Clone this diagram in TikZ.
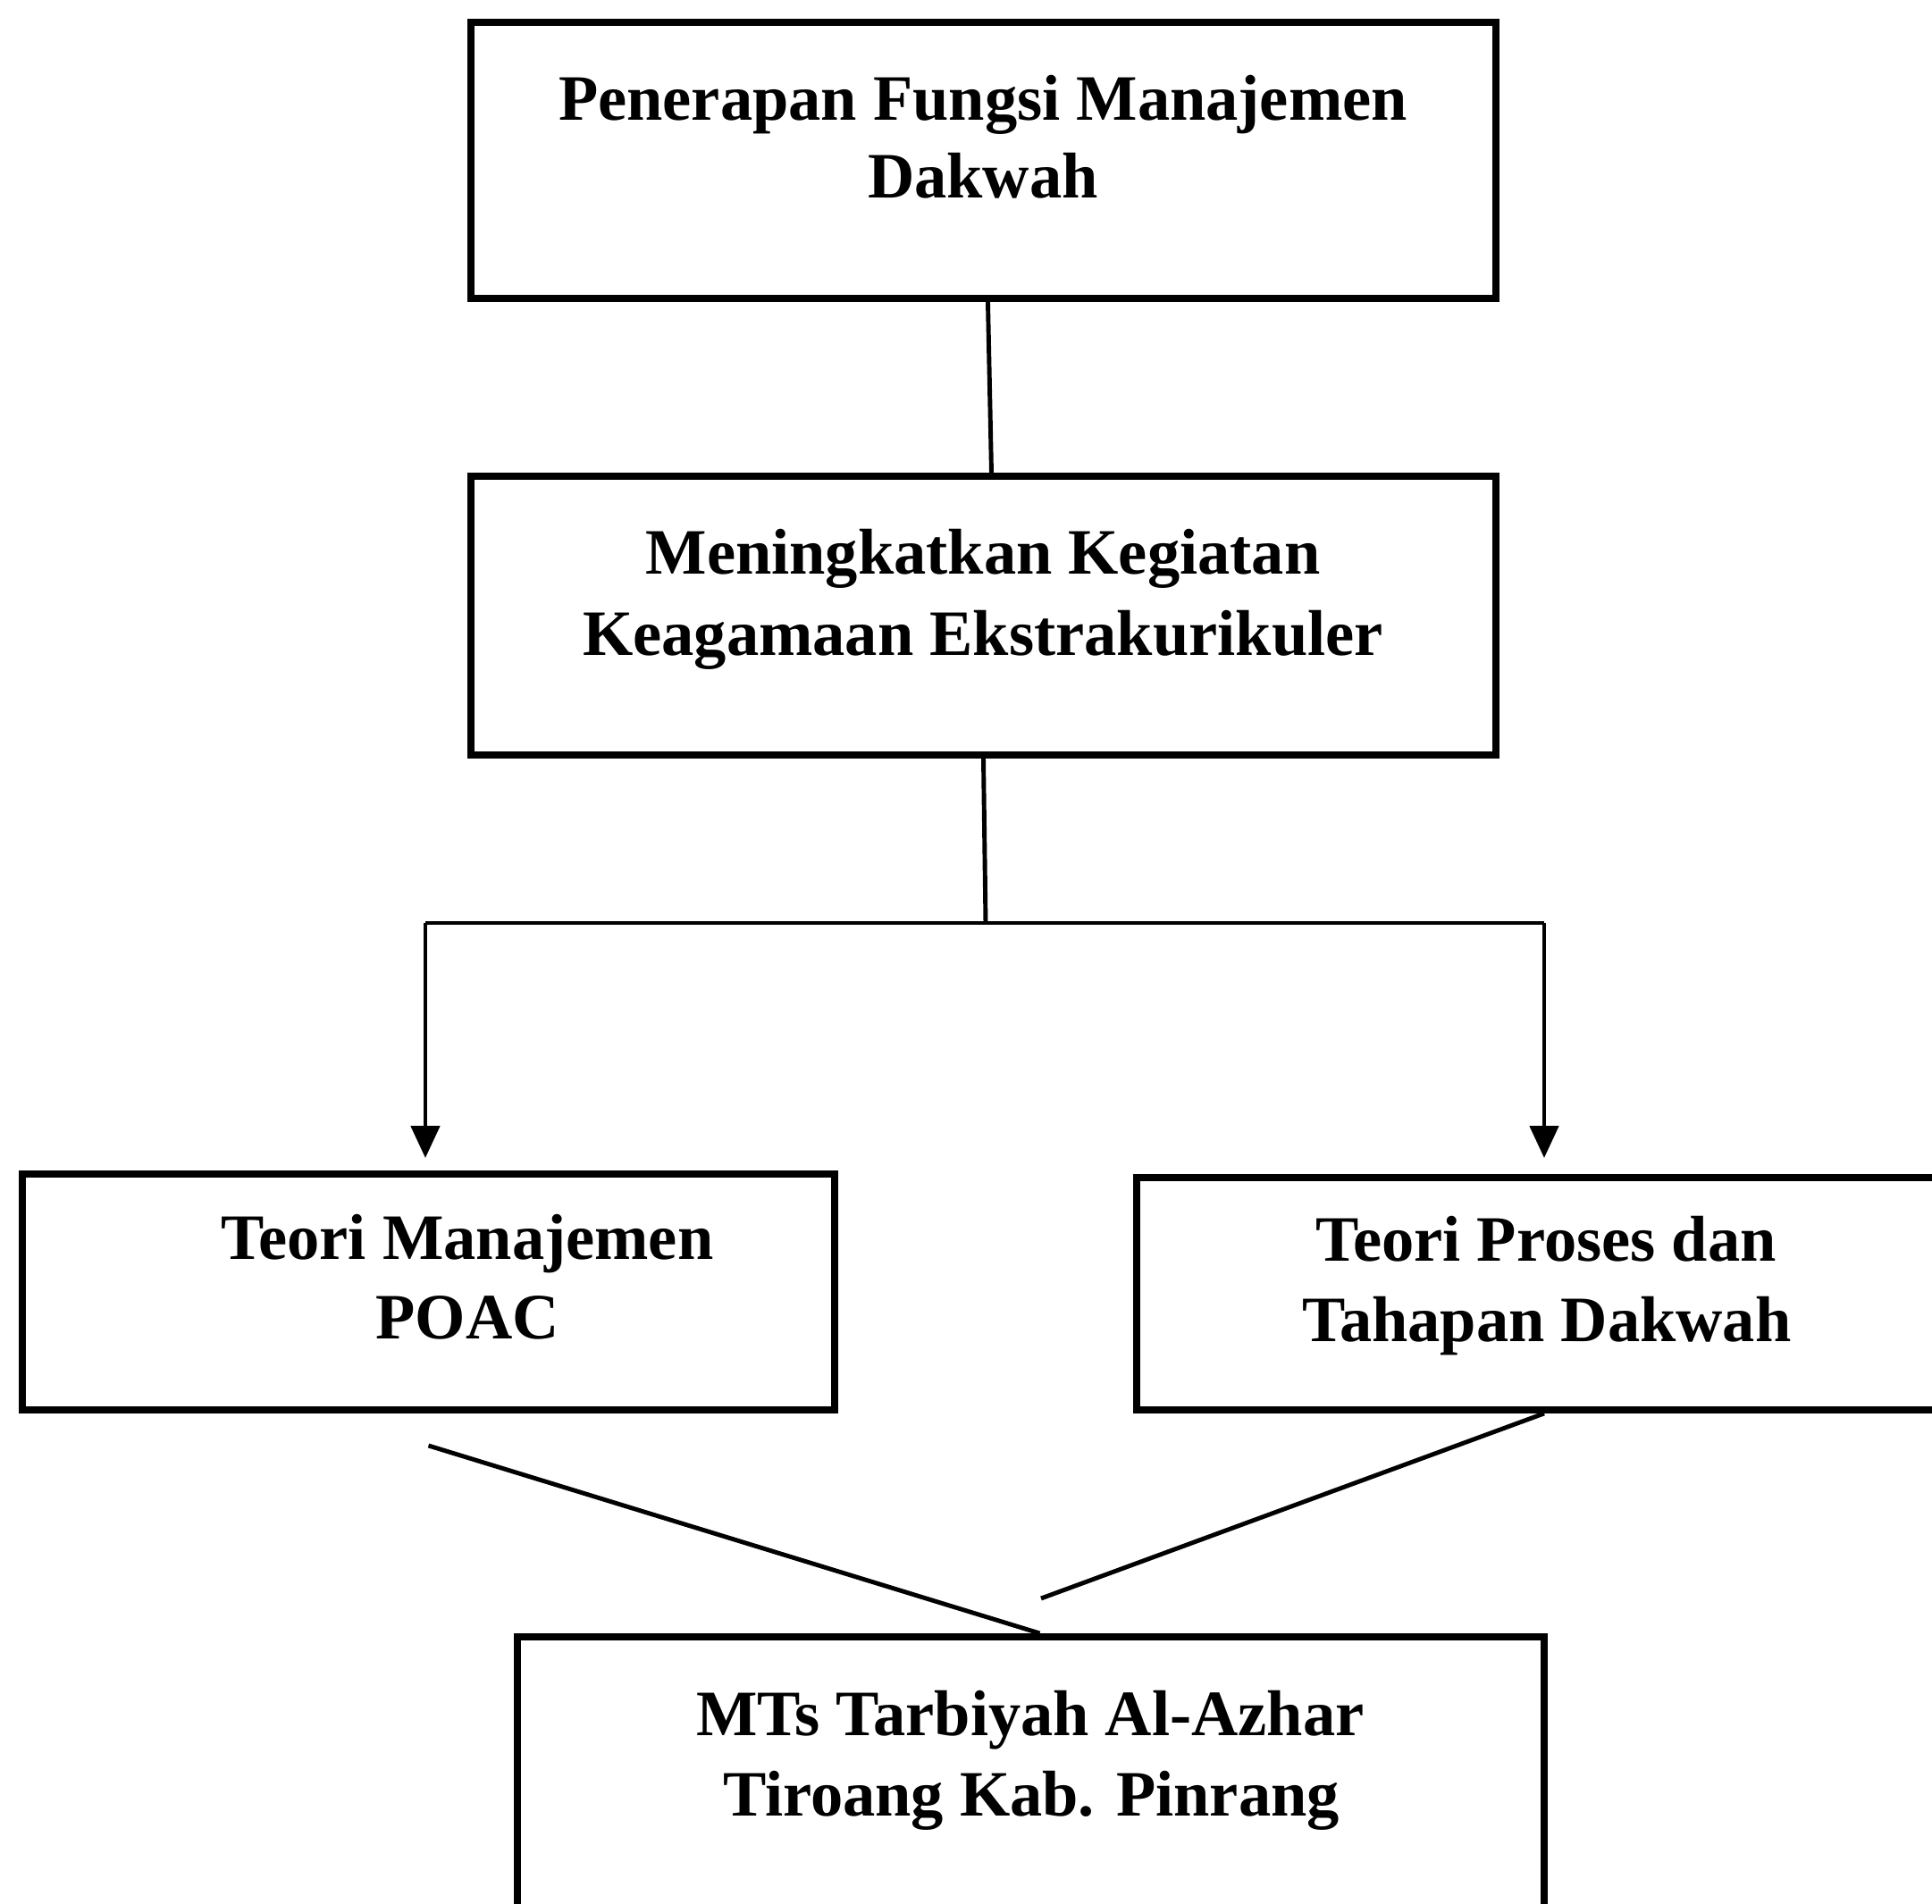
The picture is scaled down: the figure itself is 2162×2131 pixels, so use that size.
\documentclass[tikz,border=0pt]{standalone}
\usepackage{fontspec}
\setmainfont{Liberation Serif}
\usetikzlibrary{arrows.meta}
\begin{document}
\begin{tikzpicture}[x=0.01cm,y=-0.01cm,
  box/.style={draw, line width=2.2pt, rectangle, inner sep=0pt},
  lbl/.style={anchor=base, inner sep=0pt, font=\fontsize{20.6pt}{25pt}\selectfont\bfseries},
  conn/.style={line width=1.4pt},
  arr/.style={conn, -{Triangle[width=0.32cm,length=0.36cm]}}]
\useasboundingbox (0,0) rectangle (2162,2131);
\fill[white] (0,0) rectangle (2162,2131);
\clip (0,0) rectangle (2162,2131);
% boxes
\node[box, minimum width=11.47cm, minimum height=3.09cm] (b1) at (1100.5,179.5) {};
\node[box, minimum width=11.47cm, minimum height=3.12cm] (b2) at (1100.5,689) {};
\node[box, minimum width=9.09cm, minimum height=2.64cm] (b3) at (479.5,1446) {};
\node[box, minimum width=9.78cm, minimum height=2.60cm] (b4) at (1761,1448) {};
\node[box, minimum width=11.49cm, minimum height=3.68cm] (b5) at (1153.5,2016) {};
% texts
\node[lbl] (t1a) at (1100,135) {Penerapan Fungsi Manajemen};
\node[lbl] (t1b) at (1100,222) {Dakwah};
\node[lbl] (t2a) at (1100,643) {Meningkatkan Kegiatan};
\node[lbl] (t2b) at (1100,734) {Keagamaan Ekstrakurikuler};
\node[lbl] (t3a) at (523,1410) {Teori Manajemen};
\node[lbl] (t3b) at (523,1499) {POAC};
\node[lbl] (t4a) at (1730,1412) {Teori Proses dan};
\node[lbl] (t4b) at (1731,1502) {Tahapan Dakwah};
\node[lbl] (t5a) at (1153,1942) {MTs Tarbiyah Al-Azhar};
\node[lbl] (t5b) at (1154,2032) {Tiroang Kab. Pinrang};
% connectors
\coordinate (j) at (1103,1033);
\coordinate (jl) at (476,1033);
\coordinate (jr) at (1728,1033);
\coordinate (e2) at (1165,1789);
\draw[conn] ([xshift=0.05cm]b1.south) -- ([xshift=0.09cm]b2.north);
\draw[conn] (b2.south) -- (j);
\draw[conn] (jl) -- (jr);
\draw[arr, shorten >=0.14cm] (jl) -- (jl |- b3.north);
\draw[arr, shorten >=0.18cm] (jr) -- (jr |- b4.north);
\draw[conn] ([yshift=-0.36cm]b3.south) -- ([xshift=0.1cm]b5.north);
\draw[conn] (b4.south -| jr) -- (e2);
\end{tikzpicture}
\end{document}
